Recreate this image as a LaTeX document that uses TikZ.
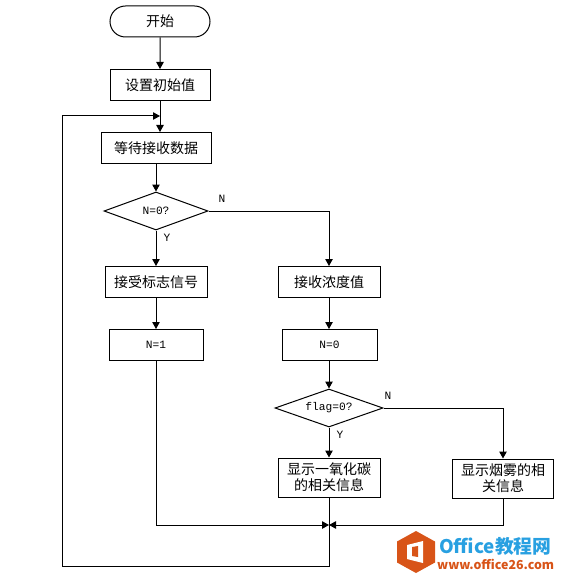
\documentclass[tikz,border=0pt]{standalone}
\usepackage{fontspec}
\setmainfont{Noto Sans CJK SC}
\setmonofont{Liberation Mono}
\usetikzlibrary{arrows.meta, shapes.geometric, shapes.misc}
\definecolor{naranja}{RGB}{216,84,24}
\definecolor{azul}{RGB}{40,160,225}
\tikzset{
    caja/.style={draw, line width=1pt, inner sep=0pt, align=center, font=\fontsize{14}{16}\selectfont},
    inicio/.style={caja, rounded rectangle, minimum width=100pt, minimum height=31pt},
    rombo/.style={draw, line width=1pt, diamond, aspect=2.75, inner sep=0pt, font=\fontsize{11.2}{13}\ttfamily},
    etiqueta/.style={inner sep=0pt, font=\fontsize{11.2}{13}\ttfamily},
    flecha/.style={line width=1pt, -{Triangle[length=7pt, width=7.5pt]}},
    linea/.style={line width=1pt},
}

\begin{document}
\begin{tikzpicture}[x=1pt, y=-1pt]
\useasboundingbox (0,0) rectangle (561,580);
% left column
\node[inicio] (start) at (160,21.5) {开始};
\node[caja, minimum width=100pt, minimum height=31pt] (init) at (160,85) {设置初始值};
\node[caja, minimum width=110pt, minimum height=31pt] (wait) at (156,148) {等待接收数据};
\node[rombo, minimum width=104pt, minimum height=38pt] (testn) at (156,211) {N=0?};
\node[caja, minimum width=102pt, minimum height=31pt] (mark) at (156,282) {接受标志信号};
\node[caja, font=\fontsize{11.2}{13}\ttfamily, minimum width=94pt, minimum height=31pt] (nuno) at (156,345) {N=1};
% right column
\node[caja, minimum width=102pt, minimum height=31pt] (recv) at (329,282) {接收浓度值};
\node[caja, font=\fontsize{11.2}{13}\ttfamily, minimum width=95pt, minimum height=31pt] (ncero) at (329.5,345) {N=0};
\node[rombo, minimum width=108pt, minimum height=38pt] (testflag) at (329,408) {flag=0?};
\node[caja, minimum width=102pt, minimum height=39pt] (coinfo) at (329,477.5) {显示一氧化碳\\的相关信息};
\node[caja, minimum width=101pt, minimum height=39pt] (smoke) at (503,478.5) {显示烟雾的相\\关信息};
% labels
\node[etiqueta] (ln1) at (222,199) {N};
\node[etiqueta] (ly1) at (167,238) {Y};
\node[etiqueta] (ln2) at (388,396) {N};
\node[etiqueta] (ly2) at (340,435) {Y};
% joints
\coordinate (merge) at (329,525);
\coordinate (bottom) at (329,566);
\coordinate (corner) at (62,566);
\coordinate (backin) at (160,116);
% connectors
\draw[flecha] (start) -- (init);
\draw[flecha] (init.south) -- (init.south |- wait.north);
\draw[flecha] (wait) -- (testn);
\draw[flecha] (testn) -- (mark);
\draw[flecha] (mark) -- (nuno);
\draw[flecha] (testn.east) -| (recv.north);
\draw[flecha] (recv) -- (ncero.north -| recv);
\draw[flecha] (ncero.south -| testflag) -- (testflag);
\draw[flecha] (testflag) -- (coinfo);
\draw[flecha] (testflag.east) -| (smoke.north);
\draw[flecha] (nuno) |- (merge);
\draw[flecha] (smoke) |- (merge);
\draw[linea] (coinfo) -- (bottom) -- (corner);
\draw[flecha] (corner) |- (backin);
% watermark
\fill[naranja] (416,531) -- (435,541.5) -- (435,562.5) -- (416,573) -- (397,562.5) -- (397,541.5) -- cycle;
\fill[white] (407,545) -- (423,541) -- (423,563) -- (407,559) -- cycle;
\fill[naranja] (412,547) -- (418,546) -- (418,557) -- (412,556) -- cycle;
\node[inner sep=0pt, anchor=west, text=azul, font=\fontsize{18.8}{20}\bfseries\selectfont] (markone) at (439,546.5) {Office教程网};
\node[inner sep=0pt, anchor=west, text=naranja, font=\fontsize{12.4}{13}\bfseries\selectfont] (marktwo) at (437,564) {www.office26.com};
\end{tikzpicture}
\end{document}
